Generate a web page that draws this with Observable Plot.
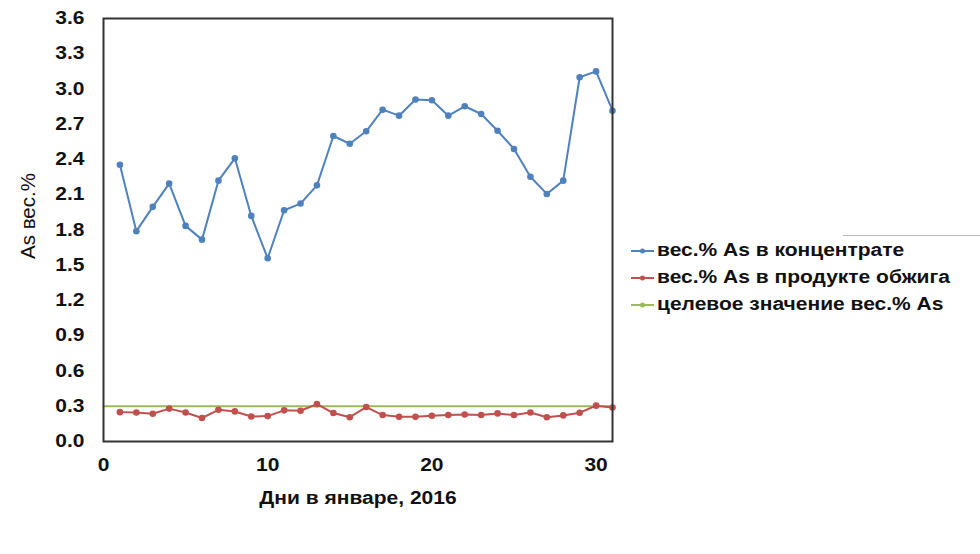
<!DOCTYPE html>
<html><head><meta charset="utf-8">
<script src="https://cdn.jsdelivr.net/npm/d3@7"></script>
<script src="https://cdn.jsdelivr.net/npm/@observablehq/plot@0.6"></script>
<style>
body{margin:0;background:#fff;font-family:"Liberation Sans",Arial,sans-serif;}
#wrap{position:relative;width:980px;height:554px;}
#legend{position:absolute;left:631px;top:237px;font-weight:bold;font-size:17.5px;color:#111;line-height:27px;}
#legend .it{display:flex;align-items:center;white-space:nowrap;}
#legend svg{margin-right:3px;flex:none;}
#legend span{display:inline-block;transform:scaleX(1.2);transform-origin:0 50%;}
#gray{position:absolute;left:843px;top:235px;width:137px;height:0;border-top:1px solid #bbb;}
#xt{position:absolute;left:104px;width:508px;top:488px;text-align:center;font-weight:bold;font-size:17.5px;color:#111;transform:scaleX(1.2);transform-origin:50% 50%;line-height:20px;}
#yt{position:absolute;left:28px;top:216px;transform:translate(-50%,-50%) rotate(-90deg);font-size:20.5px;line-height:22px;white-space:nowrap;color:#111;}
</style></head>
<body><div id="wrap"><div id="chart"></div>
<div id="gray"></div>
<div id="xt">Дни в январе, 2016</div>
<div id="yt">As вес.%</div>
<div id="legend"></div></div>
<script>
const days = d3.range(1, 32);
const concentrate = [2.355,1.79,1.997,2.195,1.835,1.718,2.22,2.41,1.92,1.559,1.968,2.025,2.18,2.60,2.534,2.64,2.824,2.773,2.91,2.904,2.773,2.853,2.787,2.645,2.49,2.253,2.107,2.22,3.10,3.15,2.815];
const calcine = [0.25,0.247,0.236,0.28,0.247,0.2,0.27,0.256,0.213,0.216,0.265,0.262,0.318,0.242,0.207,0.293,0.225,0.21,0.21,0.219,0.225,0.23,0.225,0.239,0.225,0.247,0.207,0.222,0.245,0.305,0.29];
const targetDays = [0, 31];
const targetValues = [0.3, 0.3];
const seriesNames = ["вес.% As в концентрате","вес.% As в продукте обжига","целевое значение вес.% As"];
const colors = ["#4F81BD","#C0504D","#9BBB59"];
const yTicks = d3.range(0, 13).map(i => +(i*0.3).toFixed(1));
const xTicks = [0,10,20,30];

const conc = days.map((d,i)=>({d, v: concentrate[i]}));
const calc = days.map((d,i)=>({d, v: calcine[i]}));
const targ = targetDays.map((d,i)=>({d, v: targetValues[i]}));

const chart = Plot.plot({
  width: 980, height: 554,
  marginLeft: 103, marginTop: 18, marginRight: 368, marginBottom: 113,
  style: {fontFamily: "'Liberation Sans', Arial, sans-serif", fontSize: "17.5px", fontWeight: "bold", color: "#111", background: "transparent"},
  x: {domain: [0, 31], ticks: xTicks},
  y: {domain: [0, 3.6], ticks: yTicks},
  marks: [
    Plot.axisY({ticks: yTicks, tickSize: 0, tickPadding: 19, tickFormat: d => d.toFixed(1), label: null}),
    Plot.axisX({ticks: xTicks, tickSize: 0, tickPadding: 17, tickFormat: d => String(d), label: null}),
    Plot.line(targ, {x: "d", y: "v", stroke: colors[2], strokeWidth: 2}),
    Plot.line(calc, {x: "d", y: "v", stroke: colors[1], strokeWidth: 2}),
    Plot.dot(calc, {x: "d", y: "v", fill: colors[1], r: 3.3}),
    Plot.line(conc, {x: "d", y: "v", stroke: colors[0], strokeWidth: 2}),
    Plot.dot(conc, {x: "d", y: "v", fill: colors[0], r: 3.3}),
    Plot.frame({stroke: "#333", strokeWidth: 2})
  ]
});
document.getElementById("chart").appendChild(chart);

// widen tick labels horizontally like the reference rendering
chart.querySelectorAll("text").forEach(t => {
  const b = t.getBBox();
  const anchor = t.getAttribute("text-anchor") || getComputedStyle(t).textAnchor || "start";
  let ax = b.x;
  if (anchor === "end") ax = b.x + b.width;
  else if (anchor === "middle") ax = b.x + b.width / 2;
  const tr = t.getAttribute("transform") || "";
  t.setAttribute("transform", `${tr} translate(${ax},0) scale(1.2,1) translate(${-ax},0)`);
});

const lg = document.getElementById("legend");
seriesNames.forEach((n,i)=>{
  const it = document.createElement("div"); it.className="it";
  it.innerHTML = `<svg width="23" height="10"><line x1="0" y1="5" x2="23" y2="5" stroke="${colors[i]}" stroke-width="2"/><circle cx="11.5" cy="5" r="2.5" fill="${colors[i]}"/></svg><span>${n}</span>`;
  lg.appendChild(it);
});
</script></body></html>
